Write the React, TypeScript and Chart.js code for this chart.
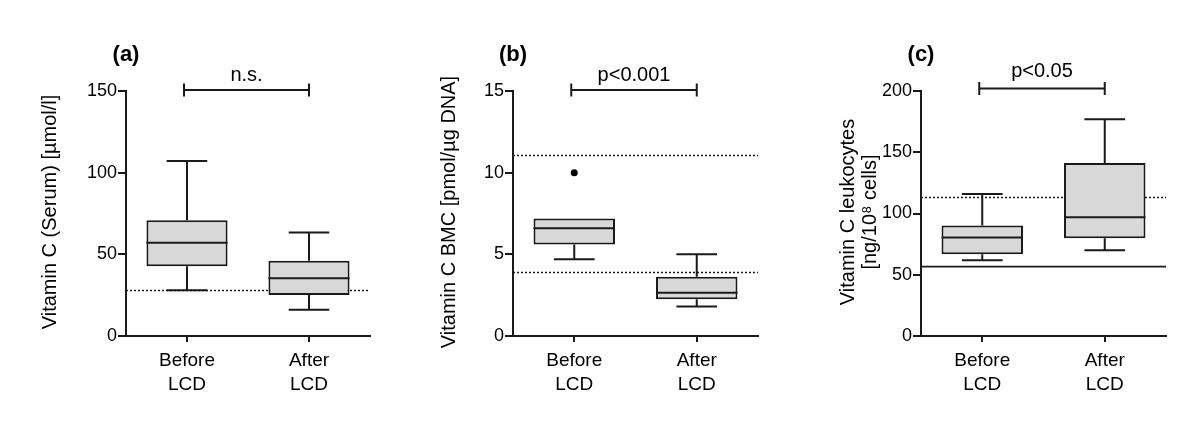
import React, { useEffect, useRef } from "react";
import { Chart, registerables } from "chart.js";
Chart.register(...registerables);

// ---------- data ----------
const categories = [["Before", "LCD"], ["After", "LCD"]];

// (a) Vitamin C serum [µmol/l]
const serumLow = [28, 16];
const serumQ1 = [42.7, 25.1];
const serumMedian = [57.1, 35.3];
const serumQ3 = [70.8, 46.1];
const serumHigh = [107.2, 63.3];
const serumOutliers: (number | null)[] = [null, null];
const serumDotted = [28.2];
const serumSolid: number[] = [];

// (b) Vitamin C BMC [pmol/µg DNA]
const bmcLow = [4.7, 1.8];
const bmcQ1 = [5.6, 2.25];
const bmcMedian = [6.6, 2.65];
const bmcQ3 = [7.2, 3.63];
const bmcHigh = [7.2, 5.0];
const bmcOutliers: (number | null)[] = [10.0, null];
const bmcDotted = [11.1, 3.9];
const bmcSolid: number[] = [];

// (c) Vitamin C leukocytes [ng/10^8 cells]
const leukoLow = [61.8, 70.0];
const leukoQ1 = [66.7, 79.7];
const leukoMedian = [80.5, 96.9];
const leukoQ3 = [90.3, 141.2];
const leukoHigh = [115.9, 176.9];
const leukoOutliers: (number | null)[] = [null, null];
const leukoDotted = [113.7];
const leukoSolid = [56.6];

const panelLetters = ["(a)", "(b)", "(c)"];
const yTitles = [
  ["Vitamin C (Serum) [µmol/l]"],
  ["Vitamin C BMC [pmol/µg DNA]"],
  ["Vitamin C leukocytes", "[ng/10⁸ cells]"],
];
const yMaxes = [150, 15, 200];
const ySteps = [50, 5, 50];
const significance = ["n.s.", "p<0.001", "p<0.05"];

// ---------- styles / layout ----------
const FONT = "'Liberation Sans', Arial, Helvetica, sans-serif";
const INK = "#1a1a1a";
const TEXT = "#000";
const BOX_FILL = "#d8d8d8";
const W = 400;
const H = 437;
const canvasLefts = [0, 400, 800];
const areaLefts = [126, 113, 121];
const areaRights = [370, 358, 366];
const areaTop = 91;
const areaBottom = 336;
const titleXs = [50, 49, 48];
const titleY = 212;
const bracketOffsets = [-1, -1, -2.5];
const labelOffsets = [-10, -10, -14];

const panels = [
  { low: serumLow, q1: serumQ1, med: serumMedian, q3: serumQ3, high: serumHigh, out: serumOutliers, dotted: serumDotted, solid: serumSolid },
  { low: bmcLow, q1: bmcQ1, med: bmcMedian, q3: bmcQ3, high: bmcHigh, out: bmcOutliers, dotted: bmcDotted, solid: bmcSolid },
  { low: leukoLow, q1: leukoQ1, med: leukoMedian, q3: leukoQ3, high: leukoHigh, out: leukoOutliers, dotted: leukoDotted, solid: leukoSolid },
];

function Panel({ idx }: { idx: number }) {
  const ref = useRef<HTMLCanvasElement | null>(null);
  useEffect(() => {
    const p = panels[idx];
    const plugin = {
      id: "boxExtras" + idx,
      beforeDatasetsDraw(chart: any) {
        const { ctx, chartArea } = chart;
        const ys = chart.scales.y;
        ctx.save();
        ctx.strokeStyle = INK;
        ctx.lineWidth = 1.5;
        ctx.setLineDash([2, 2]);
        p.dotted.forEach((v: number) => {
          const y = Math.round(ys.getPixelForValue(v)) + 0.5;
          ctx.beginPath();
          ctx.moveTo(chartArea.left, y);
          ctx.lineTo(chartArea.right, y);
          ctx.stroke();
        });
        ctx.setLineDash([]);
        ctx.lineWidth = 1.8;
        p.solid.forEach((v: number) => {
          const y = ys.getPixelForValue(v);
          ctx.beginPath();
          ctx.moveTo(chartArea.left, y);
          ctx.lineTo(chartArea.right, y);
          ctx.stroke();
        });
        ctx.restore();
      },
      afterDatasetsDraw(chart: any) {
        const { ctx } = chart;
        const xs = chart.scales.x;
        const ys = chart.scales.y;
        const meta = chart.getDatasetMeta(0);
        ctx.save();
        ctx.strokeStyle = INK;
        ctx.lineWidth = 2;
        for (let i = 0; i < p.q1.length; i++) {
          const x = xs.getPixelForValue(i);
          const bw = meta.data[i].width;
          const cap = bw / 4;
          const yHigh = ys.getPixelForValue(p.high[i]);
          const yQ3 = ys.getPixelForValue(p.q3[i]);
          const yQ1 = ys.getPixelForValue(p.q1[i]);
          const yLow = ys.getPixelForValue(p.low[i]);
          const yMed = ys.getPixelForValue(p.med[i]);
          ctx.beginPath();
          if (p.high[i] > p.q3[i]) {
            ctx.moveTo(x, yQ3);
            ctx.lineTo(x, yHigh);
            ctx.moveTo(x - cap, yHigh);
            ctx.lineTo(x + cap, yHigh);
          }
          if (p.low[i] < p.q1[i]) {
            ctx.moveTo(x, yQ1);
            ctx.lineTo(x, yLow);
            ctx.moveTo(x - cap, yLow);
            ctx.lineTo(x + cap, yLow);
          }
          ctx.moveTo(x - bw / 2, yMed);
          ctx.lineTo(x + bw / 2, yMed);
          ctx.stroke();
        }
        ctx.restore();
      },
      afterDraw(chart: any) {
        const { ctx, chartArea } = chart;
        const xs = chart.scales.x;
        ctx.save();
        // significance bracket
        const x0 = xs.getPixelForValue(0) - 3;
        const x1 = xs.getPixelForValue(1);
        const by = chartArea.top + bracketOffsets[idx];
        ctx.strokeStyle = INK;
        ctx.lineWidth = 2;
        ctx.beginPath();
        ctx.moveTo(x0, by);
        ctx.lineTo(x1, by);
        ctx.moveTo(x0, by - 6.5);
        ctx.lineTo(x0, by + 6.5);
        ctx.moveTo(x1, by - 6.5);
        ctx.lineTo(x1, by + 6.5);
        ctx.stroke();
        ctx.fillStyle = TEXT;
        ctx.font = `20px ${FONT}`;
        ctx.textAlign = "center";
        ctx.textBaseline = "alphabetic";
        ctx.fillText(significance[idx], (x0 + x1) / 2, chartArea.top + labelOffsets[idx]);
        // panel letter
        ctx.font = `bold 22px ${FONT}`;
        ctx.textBaseline = "middle";
        ctx.fillText(panelLetters[idx], chartArea.left, 55);
        // y axis title
        ctx.font = `20px ${FONT}`;
        const lines = yTitles[idx];
        ctx.translate(titleXs[idx], titleY);
        ctx.rotate(-Math.PI / 2);
        lines.forEach((t: string, k: number) => {
          ctx.fillText(t, 0, k * 22);
        });
        ctx.restore();
      },
    };

    const datasets: any[] = [
      {
        type: "bar",
        data: p.q1.map((v: number, i: number) => [v, p.q3[i]]),
        backgroundColor: BOX_FILL,
        borderColor: INK,
        borderWidth: 2,
        borderSkipped: false,
        barPercentage: 0.665,
        categoryPercentage: 1,
      },
    ];
    if (p.out.some((v) => v !== null)) {
      datasets.push({
        type: "line",
        data: p.out,
        showLine: false,
        pointRadius: 3.5,
        pointBackgroundColor: "#000",
        pointBorderColor: "#000",
        pointBorderWidth: 0,
      });
    }

    const chart = new Chart(ref.current as HTMLCanvasElement, {
      type: "bar",
      data: { labels: categories as any, datasets },
      plugins: [plugin as any],
      options: {
        responsive: false,
        maintainAspectRatio: false,
        animation: false,
        layout: { padding: { left: 0, top: areaTop, right: W - areaRights[idx], bottom: 0 } },
        plugins: { legend: { display: false }, tooltip: { enabled: false } },
        scales: {
          x: {
            offset: true,
            grid: { display: true, drawOnChartArea: false, offset: false, tickLength: 6, color: INK, lineWidth: 2 },
            border: { display: true, color: INK, width: 2 },
            ticks: { font: { family: FONT, size: 19, lineHeight: 1.26 }, color: TEXT, padding: 7 },
            afterFit: (s: any) => {
              s.height = H - areaBottom;
            },
          },
          y: {
            min: 0,
            max: yMaxes[idx],
            grid: { drawOnChartArea: false, tickLength: 8, color: INK, lineWidth: 2 },
            border: { display: true, color: INK, width: 2 },
            ticks: { stepSize: ySteps[idx], font: { family: FONT, size: 18 }, color: TEXT, padding: 1 },
            afterFit: (s: any) => {
              s.width = areaLefts[idx];
            },
          },
        },
      } as any,
    });
    return () => chart.destroy();
  }, [idx]);

  return (
    <canvas
      ref={ref}
      width={W}
      height={H}
      style={{ position: "absolute", left: canvasLefts[idx], top: 0, width: W, height: H }}
    />
  );
}

export default function App() {
  return (
    <div style={{ position: "absolute", left: 0, top: 0, width: 1200, height: 437, background: "#fff", overflow: "hidden" }}>
      <Panel idx={0} />
      <Panel idx={1} />
      <Panel idx={2} />
    </div>
  );
}
